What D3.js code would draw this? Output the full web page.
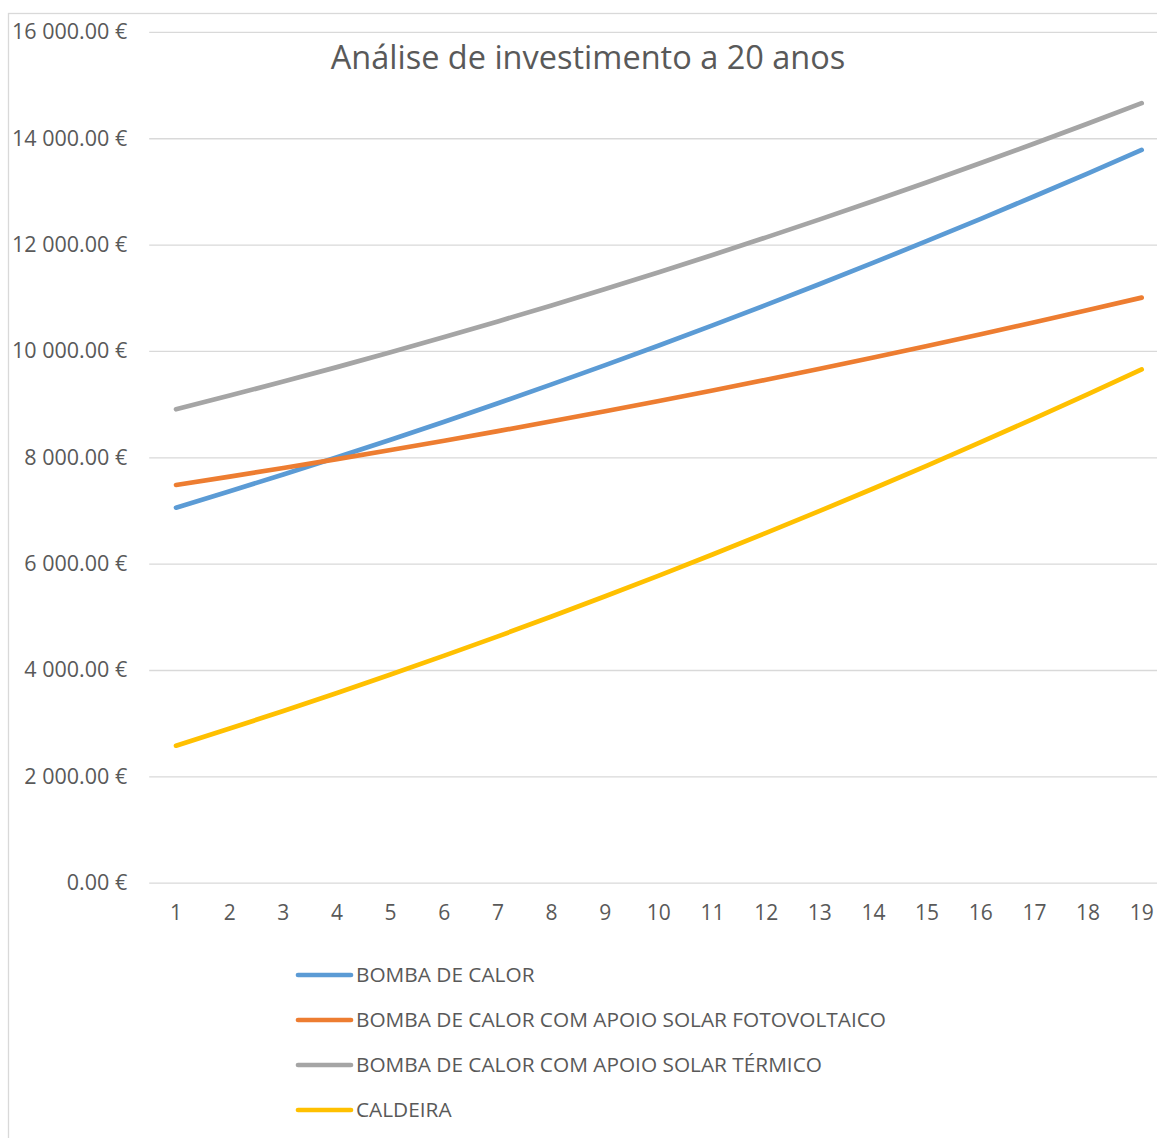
<!DOCTYPE html>
<html>
<head>
<meta charset="utf-8">
<script src="https://cdn.jsdelivr.net/npm/d3@7"></script>
<style>
  body { margin: 0; background: #fff; }
  svg { display: block; }
  text { font-family: "Open Sans", sans-serif; fill: #595959; }
</style>
</head>
<body>
<div id="chart"></div>
<script>
// DATA
const years = [1, 2, 3, 4, 5, 6, 7, 8, 9, 10, 11, 12, 13, 14, 15, 16, 17, 18, 19];
const yTicks = [0, 2000, 4000, 6000, 8000, 10000, 12000, 14000, 16000];
const seriesNames = [
  "BOMBA DE CALOR",
  "BOMBA DE CALOR COM APOIO SOLAR FOTOVOLTAICO",
  "BOMBA DE CALOR COM APOIO SOLAR TÉRMICO",
  "CALDEIRA"
];
const bombaCalor = [7053, 7361, 7677, 8000, 8331, 8670, 9017, 9371, 9734, 10103,
                    10481, 10866, 11260, 11660, 12069, 12485, 12909, 13341, 13781];
const bombaFotovoltaico = [7480, 7637, 7799, 7966, 8137, 8312, 8492, 8677, 8866, 9059,
                           9257, 9459, 9666, 9878, 10094, 10314, 10539, 10769, 11003];
const bombaTermico = [8904, 9161, 9425, 9696, 9975, 10262, 10556, 10857, 11165, 11482,
                      11805, 12136, 12474, 12820, 13173, 13534, 13902, 14277, 14660];
const caldeira = [2577, 2899, 3229, 3567, 3914, 4270, 4633, 5005, 5386, 5775,
                  6172, 6578, 6992, 7414, 7845, 8285, 8732, 9188, 9653];
const colors = ["#5B9BD5", "#ED7D31", "#A5A5A5", "#FFC000"];

const series = [bombaCalor, bombaFotovoltaico, bombaTermico, caldeira];

// SIZE
const width = 1157, height = 1138;
const plot = { left: 149.2, right: 1168.5, top: 31.9, bottom: 882.7 };

const svg = d3.select("#chart").append("svg")
  .attr("width", width)
  .attr("height", height);

// chart frame (cut by the page edge)
svg.append("rect")
  .attr("x", 8.5).attr("y", 13.5)
  .attr("width", width).attr("height", height)
  .attr("fill", "none").attr("stroke", "#D9D9D9").attr("stroke-width", 1.3);

// SCALES
const x = d3.scaleBand().domain(years).range([plot.left, plot.right]);
const y = d3.scaleLinear().domain([0, 16000]).range([plot.bottom, plot.top]);
const fmt = v => d3.format(",.2f")(v).replace(/,/g, " ") + " €";

// gridlines + y labels
const yAxis = svg.append("g")
  .attr("transform", `translate(${plot.left},0)`)
  .call(d3.axisLeft(y).tickValues(yTicks).tickFormat(fmt)
    .tickSize(-(width - plot.left)).tickPadding(22));
yAxis.select(".domain").remove();
yAxis.selectAll("line").attr("stroke", "#D9D9D9").attr("stroke-width", 1.3);
yAxis.selectAll("text").attr("font-size", 21.5).attr("fill", "#595959");

// x labels
const xAxis = svg.append("g")
  .attr("transform", `translate(0,${plot.bottom})`)
  .call(d3.axisBottom(x).tickSize(0).tickPadding(22));
xAxis.select(".domain").remove();
xAxis.selectAll("text").attr("font-size", 21).attr("fill", "#595959");

// LINES
const line = d3.line()
  .x((d, i) => x(years[i]) + x.bandwidth() / 2)
  .y(d => y(d));

svg.selectAll("path.serie")
  .data(series)
  .join("path")
  .attr("class", "serie")
  .attr("d", line)
  .attr("fill", "none")
  .attr("stroke", (d, i) => colors[i])
  .attr("stroke-width", 4.7)
  .attr("stroke-linecap", "round")
  .attr("stroke-linejoin", "round");

// TITLE
svg.append("text")
  .attr("x", 588).attr("y", 69)
  .attr("text-anchor", "middle")
  .attr("font-size", 32.5)
  .text("Análise de investimento a 20 anos");

// LEGEND
const legend = svg.append("g").selectAll("g")
  .data(seriesNames)
  .join("g")
  .attr("transform", (d, i) => `translate(298,${975 + i * 45})`);
legend.append("line")
  .attr("x1", 0).attr("x2", 53)
  .attr("stroke", (d, i) => colors[i])
  .attr("stroke-width", 4.7)
  .attr("stroke-linecap", "round");
legend.append("text")
  .attr("x", 58).attr("dy", "0.35em")
  .attr("font-size", 20.8)
  .text(d => d);
</script>
</body>
</html>
